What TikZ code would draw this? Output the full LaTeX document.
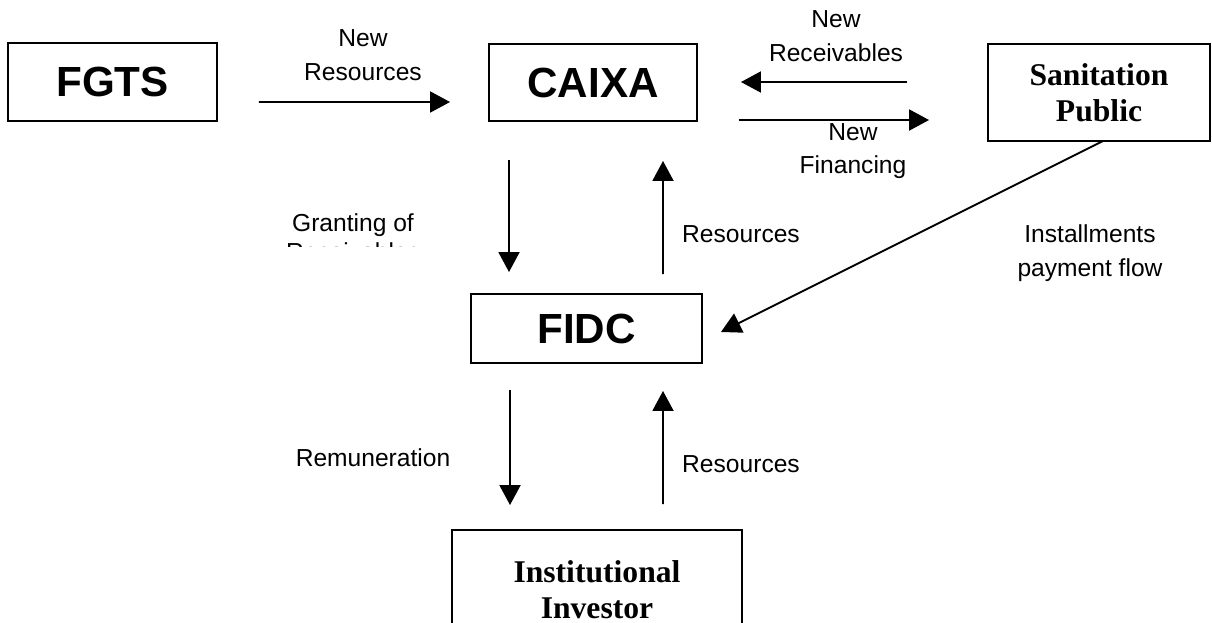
\documentclass[tikz,border=0pt]{standalone}
\usepackage{fontspec}
\setmainfont{Liberation Sans}
\newfontfamily\serifface{Liberation Serif}
\usetikzlibrary{arrows.meta}

\tikzset{
  box/.style={draw, line width=1.1pt, inner sep=0pt},
  bigname/.style={box, font=\fontsize{24}{28}\selectfont\bfseries},
  serifname/.style={box, align=center, font=\fontsize{18}{20.5}\selectfont\serifface\bfseries},
  flow/.style={line width=1.1pt, -{Triangle[width=0.42cm,length=0.4cm]}},
  tag/.style={align=center, inner sep=0pt, font=\fontsize{14}{19}\selectfont},
}

\begin{document}
\begin{tikzpicture}[x=0.02cm, y=-0.02cm]
    \clip (0,0) rectangle (1212,622);
    % boxes
    \node[bigname, minimum width=4.18cm, minimum height=1.56cm] (fgts) at (112.5,82) {FGTS};
    \node[bigname, minimum width=4.16cm, minimum height=1.54cm] (caixa) at (593,82.5) {CAIXA};
    \node[serifname, minimum width=4.44cm, minimum height=1.94cm] (sanit) at (1099,92.5) {Sanitation\\Public};
    \node[bigname, minimum width=4.62cm, minimum height=1.38cm] (fidc) at (586.5,328.5) {FIDC};
    \node[serifname, minimum width=5.8cm, minimum height=2.4cm] (invest) at (597,590) {Institutional\\Investor};

    % arrows between the boxes
    \draw[flow] ([shift={(41,20)}]fgts.east) -- ([shift={(-38,19.5)}]caixa.west);
    \draw[flow] ([shift={(-80,-10.5)}]sanit.west) -- ([shift={(43,-0.5)}]caixa.east);
    \draw[flow] ([shift={(41,37.5)}]caixa.east) -- ([shift={(-58,27.5)}]sanit.west);
    \draw[flow] ([shift={(-84,38)}]caixa.south) -- ([shift={(-77.5,-21)}]fidc.north);
    \draw[flow] ([shift={(76.5,-19)}]fidc.north) -- ([shift={(70,39)}]caixa.south);
    \draw[flow] ([shift={(4,-1)}]sanit.south) -- ([shift={(18,3.5)}]fidc.east);
    \draw[flow] ([shift={(-76.5,26)}]fidc.south) -- ([shift={(-87,-24)}]invest.north);
    \draw[flow] ([shift={(66,-25)}]invest.north) -- ([shift={(76.5,27)}]fidc.south);

    % labels
    \node[tag] (newres) at (363,55) {New\\Resources};
    \node[tag] (newrec) at (836,36) {New\\Receivables};
    \node[tag] (newfin) at (853,151) {New\\Financing};
    \begin{scope}
      \clip (250,180) rectangle (460,246);
      \node[tag, font=\fontsize{14}{16.3}\selectfont] (grant) at (353,237) {Granting of\\Receivables};
    \end{scope}
    \node[tag] (resup) at (741,234) {Resources};
    \node[tag] (install) at (1090,253) {Installments\\payment flow};
    \node[tag] (remun) at (373,458) {Remuneration};
    \node[tag] (resdown) at (741,464) {Resources};
\end{tikzpicture}
\end{document}
